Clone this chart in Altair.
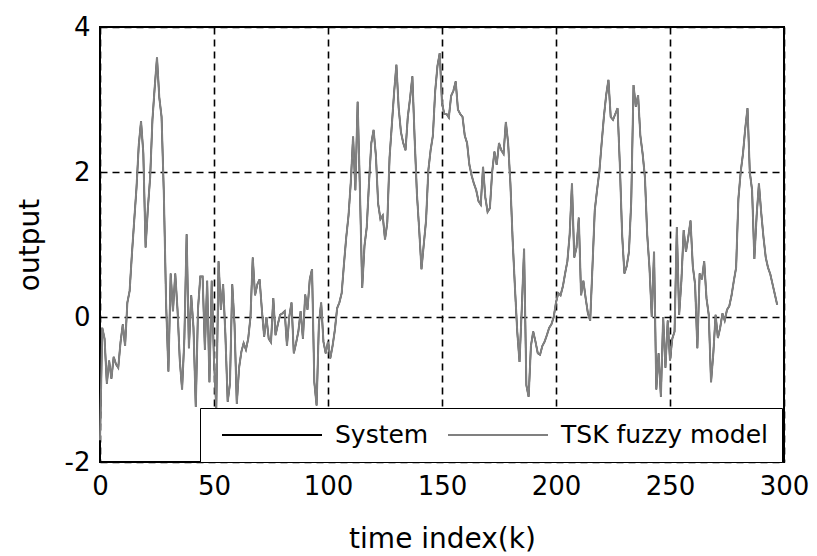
import altair as alt
import pandas as pd

# Output values, k = 0..297
system_output = [
    -1.7, -0.15, -0.3, -0.92, -0.6, -0.85, -0.55, -0.65, -0.7, -0.35,
    -0.1, -0.4, 0.2, 0.36, 0.87, 1.33, 1.78, 2.37, 2.7, 2.26,
    0.96, 1.5, 1.93, 2.72, 3.17, 3.58, 3.03, 2.76, 1.7, 0.18,
    -0.75, 0.6, 0.08, 0.6, 0.1, -0.6, -1.0, -0.3, 1.14, -0.43,
    0.3, -0.15, -1.24, 0.12, 0.56, 0.56, -0.45, 0.5, -0.9, 0.5,
    -0.6, -1.26, 0.77, 0.1, 0.45, -0.25, -1.17, -0.92, 0.45, -0.1,
    -1.2, -0.7, -0.48, -0.36, -0.45, -0.3, 0.0, 0.82, 0.3, 0.45,
    0.52, 0.1, -0.27, 0.0, -0.3, -0.35, 0.26, -0.25, -0.1, 0.03,
    0.05, 0.08, -0.4, 0.0, 0.2, -0.5, -0.36, -0.2, 0.08, -0.3,
    0.31, 0.1, 0.52, 0.66, -0.9, -1.22, -0.1, 0.2, -0.34, -0.5,
    -0.34, -0.57, -0.4, -0.18, 0.12, 0.2, 0.33, 0.73, 1.1, 1.4,
    1.86, 2.49, 1.75, 2.97, 1.75, 0.4, 0.98, 1.24, 1.86, 2.4,
    2.58, 2.23, 1.56, 1.35, 1.4, 1.07, 1.3, 2.2, 2.65, 3.1,
    3.48, 2.88, 2.55, 2.4, 2.3, 2.76, 3.02, 3.32, 2.46, 1.7,
    1.2, 0.66, 1.0, 1.33, 2.02, 2.3, 2.5, 3.11, 3.46, 3.64,
    2.95, 2.8, 2.8, 2.75, 3.05, 3.12, 3.25, 2.86, 2.8, 2.76,
    2.5, 2.4, 2.1, 1.95, 1.84, 1.75, 1.6, 1.55, 2.07, 1.65,
    1.45, 1.5, 2.0, 2.28, 2.1, 2.4, 2.3, 2.25, 2.69, 2.4,
    1.84, 1.05, 0.4, -0.2, -0.62, 0.12, 0.94, -0.94, -1.1, -0.4,
    -0.2, -0.34, -0.5, -0.52, -0.4, -0.34, -0.25, -0.15, -0.1, 0.0,
    0.2, 0.33, 0.3, 0.42, 0.6, 0.77, 1.14, 1.84, 0.82, 0.96,
    1.37, 0.3, 0.5, 0.26, 0.05, -0.05, 0.7, 1.47, 1.75, 2.0,
    2.39, 2.76, 3.06, 3.27, 2.76, 2.72, 2.8, 2.88, 2.1, 1.14,
    0.6, 0.7, 0.9, 1.6, 3.2, 2.9, 3.06, 2.5, 2.25, 1.93,
    1.14, 0.68, 0.0, 0.9, -1.0, -0.5, -1.1, 0.0, -0.7, -0.05,
    -0.6, -0.3, -0.2, 1.24, 0.03, 0.5, 1.2, 0.9, 1.1, 1.33,
    0.7, 0.45, -0.43, 0.6, 0.52, 0.77, 0.26, 0.03, -0.9, -0.5,
    0.03, -0.29, -0.15, 0.05, -0.05, 0.1, 0.15, 0.3, 0.5, 0.68,
    1.63, 2.0, 2.25, 2.6, 2.88, 2.0, 1.75, 0.8, 1.4, 1.84,
    1.44, 1.1, 0.82, 0.68, 0.59, 0.45, 0.31, 0.17,
]
# The TSK model output lies on top of the system output in the picture
tsk_output = list(system_output)

series_names = ["System", "TSK fuzzy model"]
series_colors = ["#000000", "#808080"]
x_ticks = [0, 50, 100, 150, 200, 250, 300]
y_ticks = [-2, 0, 2, 4]

k = list(range(len(system_output)))
df_sys = pd.DataFrame({"k": k, "y": system_output, "series": series_names[0]})
df_tsk = pd.DataFrame({"k": k, "y": tsk_output, "series": series_names[1]})

FONT = "DejaVu Sans"

x_enc = alt.X("k:Q", scale=alt.Scale(domain=[0, 300], nice=False),
              axis=alt.Axis(values=x_ticks, title="time index(k)", labelPadding=11,
                            titlePadding=26, labelFlush=False,
                            labelExpr="toString(datum.value)"))
y_enc = alt.Y("y:Q", scale=alt.Scale(domain=[-2, 4], nice=False),
              axis=alt.Axis(values=y_ticks, title="output", labelPadding=10,
                            titlePadding=20, labelFlush=False,
                            labelExpr="toString(datum.value)"))
color_enc = alt.Color(
    "series:N",
    scale=alt.Scale(domain=series_names, range=series_colors),
    legend=alt.Legend(
        orient="none", legendX=100, legendY=381, direction="horizontal", title=None,
        symbolType="stroke", symbolSize=10000, symbolStrokeWidth=2,
        symbolOffset=7, clipHeight=26,
        labelFontSize=25, labelFont=FONT, labelColor="black", labelOffset=12,
        labelLimit=400,
        fillColor="white", strokeColor="black",
        padding=14, columnPadding=11, symbolOpacity=1,
    ),
)

sys_line = alt.Chart(df_sys).mark_line(strokeWidth=1.5, interpolate="linear").encode(
    x=x_enc, y=y_enc, color=color_enc)
tsk_line = alt.Chart(df_tsk).mark_line(strokeWidth=2, interpolate="linear").encode(
    x=x_enc, y=y_enc, color=color_enc)

chart = alt.layer(sys_line, tsk_line).properties(
    width=684, height=435,
    autosize=alt.AutoSizeParams(type="none"),
    padding={"left": 100, "top": 27, "right": 33, "bottom": 94},
    background="white",
).configure_view(
    stroke="black", strokeWidth=2
).configure_axis(
    grid=True, gridColor="black", gridDash=[7, 5], gridWidth=1.6, gridOpacity=1,
    domain=False, ticks=False,
    labelFont=FONT, labelFontSize=26, labelColor="black",
    titleFont=FONT, titleFontSize=28, titleFontWeight="normal", titleColor="black",
)

chart.save("out.html", embed_options={"renderer": "svg", "actions": False})
